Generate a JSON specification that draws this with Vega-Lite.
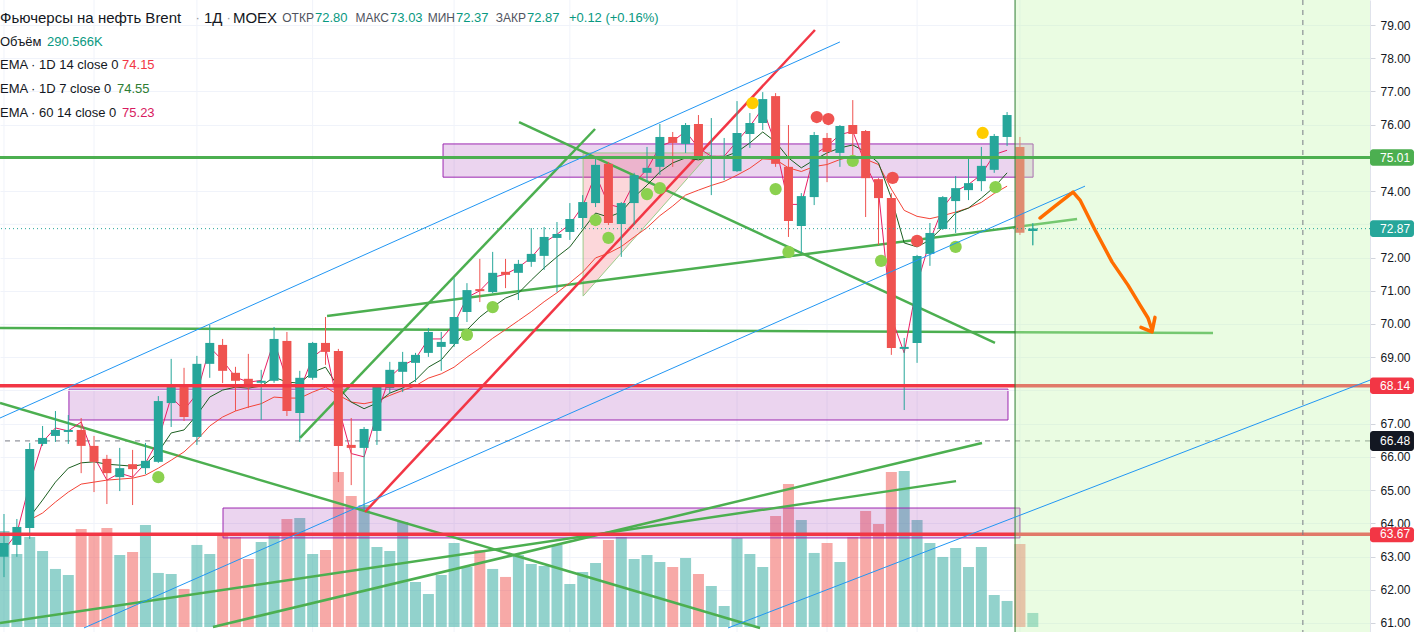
{
  "$schema": "https://vega.github.io/schema/vega-lite/v6.json",
  "description": "Brent futures, daily candles with drawings",
  "width": 1370,
  "height": 632,
  "autosize": {"type": "none"},
  "padding": {"left": 0, "top": 0, "right": 47, "bottom": 0},
  "background": "white",
  "config": {"view": {"stroke": null}, "font": "Liberation Sans", "scale": {"continuousPadding": 0}},
  "datasets": {
    "candles": [
      {"i":0,"o":62.99,"h":64.28,"l":62.38,"c":63.41,"v":1992,"e7":null,"e14":null,"e60":63.2},
      {"i":1,"o":63.35,"h":64.13,"l":62.99,"c":63.89,"v":1515,"e7":null,"e14":null,"e60":63.7},
      {"i":2,"o":63.86,"h":66.42,"l":63.53,"c":66.24,"v":1868,"e7":64.19,"e14":64.10,"e60":65.2},
      {"i":3,"o":66.39,"h":66.93,"l":66.33,"c":66.57,"v":1577,"e7":64.70,"e14":64.31,"e60":66.45},
      {"i":4,"o":66.63,"h":67.38,"l":66.45,"c":66.81,"v":1204,"e7":65.24,"e14":64.64,"e60":66.87},
      {"i":5,"o":66.75,"h":67.26,"l":66.39,"c":66.81,"v":1079,"e7":65.66,"e14":64.94,"e60":66.78},
      {"i":6,"o":66.81,"h":67.17,"l":65.51,"c":66.33,"v":2034,"e7":65.82,"e14":65.18,"e60":67.05},
      {"i":7,"o":66.33,"h":66.63,"l":64.94,"c":65.85,"v":1909,"e7":65.85,"e14":65.24,"e60":66.0},
      {"i":8,"o":65.94,"h":66.06,"l":64.58,"c":65.51,"v":2054,"e7":65.78,"e14":65.30,"e60":65.3},
      {"i":9,"o":65.39,"h":66.27,"l":64.97,"c":65.66,"v":1494,"e7":65.75,"e14":65.33,"e60":65.51},
      {"i":10,"o":65.78,"h":66.21,"l":64.55,"c":65.63,"v":1556,"e7":65.72,"e14":65.36,"e60":65.39},
      {"i":11,"o":65.66,"h":66.42,"l":65.48,"c":65.88,"v":2117,"e7":65.78,"e14":65.45,"e60":65.81},
      {"i":12,"o":65.85,"h":67.83,"l":65.82,"c":67.68,"v":1121,"e7":66.15,"e14":65.66,"e60":66.51},
      {"i":13,"o":67.62,"h":68.95,"l":66.90,"c":68.10,"v":1100,"e7":66.72,"e14":65.90,"e60":67.8},
      {"i":14,"o":68.10,"h":68.68,"l":67.08,"c":67.20,"v":789,"e7":66.81,"e14":66.15,"e60":67.41},
      {"i":15,"o":66.60,"h":69.04,"l":66.36,"c":68.80,"v":1702,"e7":67.26,"e14":66.51,"e60":67.9},
      {"i":16,"o":68.80,"h":69.97,"l":68.38,"c":69.43,"v":1515,"e7":67.80,"e14":66.93,"e60":69.3},
      {"i":17,"o":69.37,"h":69.55,"l":68.22,"c":68.59,"v":1951,"e7":68.01,"e14":67.20,"e60":68.9},
      {"i":18,"o":68.53,"h":68.71,"l":67.38,"c":68.29,"v":1868,"e7":68.10,"e14":67.38,"e60":68.4},
      {"i":19,"o":68.35,"h":69.10,"l":67.47,"c":68.16,"v":1411,"e7":68.07,"e14":67.50,"e60":68.25},
      {"i":20,"o":68.23,"h":68.62,"l":67.11,"c":68.29,"v":1764,"e7":68.13,"e14":67.60,"e60":68.3},
      {"i":21,"o":68.29,"h":69.91,"l":68.23,"c":69.55,"v":1930,"e7":68.40,"e14":67.80,"e60":69.5},
      {"i":22,"o":69.49,"h":69.76,"l":67.23,"c":67.38,"v":2241,"e7":68.25,"e14":67.77,"e60":68.3},
      {"i":23,"o":67.32,"h":68.59,"l":66.45,"c":68.38,"v":2262,"e7":68.22,"e14":67.77,"e60":68.0},
      {"i":24,"o":68.38,"h":69.46,"l":68.32,"c":69.43,"v":1515,"e7":68.55,"e14":67.95,"e60":69.0},
      {"i":25,"o":69.43,"h":70.21,"l":68.77,"c":69.16,"v":1598,"e7":68.70,"e14":68.10,"e60":69.3},
      {"i":26,"o":69.19,"h":69.25,"l":65.24,"c":66.33,"v":3216,"e7":68.10,"e14":67.86,"e60":67.5},
      {"i":27,"o":66.36,"h":67.17,"l":65.15,"c":66.27,"v":2718,"e7":67.65,"e14":67.65,"e60":66.1},
      {"i":28,"o":66.27,"h":66.90,"l":64.40,"c":66.84,"v":2532,"e7":67.45,"e14":67.60,"e60":66.0},
      {"i":29,"o":66.78,"h":68.16,"l":66.36,"c":68.13,"v":1660,"e7":67.62,"e14":67.68,"e60":67.3},
      {"i":30,"o":68.07,"h":68.86,"l":67.92,"c":68.62,"v":1577,"e7":67.92,"e14":67.85,"e60":68.4},
      {"i":31,"o":68.56,"h":69.16,"l":67.95,"c":68.86,"v":2179,"e7":68.07,"e14":68.00,"e60":68.75},
      {"i":32,"o":68.83,"h":69.13,"l":68.25,"c":69.07,"v":934,"e7":68.31,"e14":68.14,"e60":68.95},
      {"i":33,"o":69.13,"h":69.88,"l":69.01,"c":69.76,"v":685,"e7":68.70,"e14":68.37,"e60":69.55},
      {"i":34,"o":69.31,"h":69.76,"l":68.59,"c":69.46,"v":1079,"e7":68.92,"e14":68.50,"e60":69.55},
      {"i":35,"o":69.40,"h":71.38,"l":69.31,"c":70.21,"v":1743,"e7":69.37,"e14":68.70,"e60":70.0},
      {"i":36,"o":70.36,"h":71.23,"l":70.06,"c":71.02,"v":1245,"e7":69.82,"e14":69.00,"e60":70.8},
      {"i":37,"o":71.05,"h":71.96,"l":70.66,"c":70.99,"v":1598,"e7":70.21,"e14":69.27,"e60":71.0},
      {"i":38,"o":70.96,"h":72.17,"l":70.93,"c":71.54,"v":1204,"e7":70.51,"e14":69.57,"e60":71.4},
      {"i":39,"o":71.57,"h":71.96,"l":71.08,"c":71.48,"v":1038,"e7":70.78,"e14":69.83,"e60":71.5},
      {"i":40,"o":71.54,"h":71.93,"l":70.72,"c":71.81,"v":1494,"e7":70.93,"e14":70.10,"e60":71.7},
      {"i":41,"o":71.87,"h":72.89,"l":71.72,"c":72.11,"v":1307,"e7":71.32,"e14":70.37,"e60":72.0},
      {"i":42,"o":72.05,"h":72.92,"l":71.63,"c":72.62,"v":1266,"e7":71.69,"e14":70.67,"e60":72.45},
      {"i":43,"o":72.59,"h":73.07,"l":70.96,"c":72.71,"v":1702,"e7":72.02,"e14":70.94,"e60":72.7},
      {"i":44,"o":72.77,"h":73.64,"l":72.53,"c":73.16,"v":892,"e7":72.32,"e14":71.24,"e60":73.0},
      {"i":45,"o":73.19,"h":73.88,"l":72.89,"c":73.67,"v":1141,"e7":72.83,"e14":71.56,"e60":73.55},
      {"i":46,"o":73.64,"h":74.97,"l":73.52,"c":74.79,"v":1328,"e7":73.34,"e14":71.99,"e60":74.5},
      {"i":47,"o":74.82,"h":74.88,"l":72.98,"c":73.04,"v":1805,"e7":73.22,"e14":72.13,"e60":73.6},
      {"i":48,"o":73.01,"h":73.67,"l":72.02,"c":73.64,"v":1868,"e7":73.37,"e14":72.33,"e60":73.5},
      {"i":49,"o":73.64,"h":74.55,"l":72.98,"c":74.48,"v":1411,"e7":73.82,"e14":72.62,"e60":74.25},
      {"i":50,"o":74.55,"h":75.33,"l":74.27,"c":74.70,"v":1494,"e7":74.18,"e14":72.90,"e60":74.65},
      {"i":51,"o":74.73,"h":76.02,"l":74.49,"c":75.63,"v":1349,"e7":74.58,"e14":73.26,"e60":75.35},
      {"i":52,"o":75.63,"h":75.78,"l":74.73,"c":75.45,"v":1245,"e7":74.85,"e14":73.55,"e60":75.5},
      {"i":53,"o":75.42,"h":76.05,"l":75.15,"c":75.99,"v":1432,"e7":75.00,"e14":73.88,"e60":75.8},
      {"i":54,"o":76.02,"h":76.29,"l":75.00,"c":75.03,"v":1100,"e7":74.94,"e14":74.03,"e60":75.3},
      {"i":55,"o":75.00,"h":76.20,"l":73.88,"c":75.06,"v":851,"e7":75.03,"e14":74.17,"e60":75.05},
      {"i":56,"o":75.00,"h":75.60,"l":74.33,"c":75.06,"v":436,"e7":75.03,"e14":74.29,"e60":75.05},
      {"i":57,"o":74.60,"h":76.71,"l":74.58,"c":75.75,"v":1847,"e7":75.18,"e14":74.48,"e60":75.5},
      {"i":58,"o":75.72,"h":76.35,"l":75.30,"c":76.05,"v":1515,"e7":75.45,"e14":74.69,"e60":75.95},
      {"i":59,"o":76.05,"h":76.98,"l":75.84,"c":76.77,"v":1245,"e7":75.78,"e14":74.97,"e60":76.5},
      {"i":60,"o":76.86,"h":76.95,"l":74.73,"c":74.82,"v":2303,"e7":75.48,"e14":74.95,"e60":75.4},
      {"i":61,"o":74.73,"h":75.99,"l":72.62,"c":73.10,"v":2967,"e7":75.00,"e14":74.70,"e60":73.6},
      {"i":62,"o":72.95,"h":73.94,"l":72.14,"c":73.85,"v":2220,"e7":74.70,"e14":74.59,"e60":73.6},
      {"i":63,"o":73.82,"h":75.78,"l":73.58,"c":75.69,"v":1536,"e7":74.94,"e14":74.74,"e60":75.1},
      {"i":64,"o":75.60,"h":75.75,"l":74.27,"c":75.18,"v":1743,"e7":75.15,"e14":74.80,"e60":75.35},
      {"i":65,"o":75.15,"h":75.99,"l":74.73,"c":75.96,"v":1349,"e7":75.30,"e14":74.95,"e60":75.7},
      {"i":66,"o":75.99,"h":76.74,"l":75.03,"c":75.72,"v":1868,"e7":75.39,"e14":75.05,"e60":75.8},
      {"i":67,"o":75.81,"h":75.84,"l":73.22,"c":74.39,"v":2407,"e7":75.18,"e14":74.96,"e60":74.8},
      {"i":68,"o":74.36,"h":74.39,"l":72.38,"c":73.79,"v":2137,"e7":74.85,"e14":74.80,"e60":74.0},
      {"i":69,"o":73.79,"h":73.94,"l":69.07,"c":69.28,"v":3216,"e7":73.79,"e14":74.06,"e60":70.2},
      {"i":70,"o":69.25,"h":69.58,"l":67.41,"c":69.31,"v":3237,"e7":72.44,"e14":73.42,"e60":69.13},
      {"i":71,"o":69.43,"h":72.08,"l":68.83,"c":72.05,"v":2220,"e7":72.32,"e14":73.24,"e60":71.2},
      {"i":72,"o":72.11,"h":73.04,"l":71.75,"c":72.74,"v":1743,"e7":72.53,"e14":73.17,"e60":72.5},
      {"i":73,"o":72.86,"h":73.85,"l":72.83,"c":73.82,"v":1453,"e7":72.92,"e14":73.26,"e60":73.5},
      {"i":74,"o":73.70,"h":74.45,"l":72.74,"c":74.09,"v":1639,"e7":73.34,"e14":73.37,"e60":74.0},
      {"i":75,"o":74.03,"h":74.99,"l":73.73,"c":74.24,"v":1245,"e7":73.49,"e14":73.49,"e60":74.2},
      {"i":76,"o":74.30,"h":75.33,"l":74.00,"c":74.76,"v":1660,"e7":73.79,"e14":73.66,"e60":74.5},
      {"i":77,"o":74.64,"h":75.72,"l":74.55,"c":75.66,"v":664,"e7":74.12,"e14":73.93,"e60":75.1},
      {"i":78,"o":75.63,"h":76.38,"l":75.36,"c":76.29,"v":540,"e7":74.55,"e14":74.15,"e60":75.23},
      {"i":79,"o":75.33,"h":75.63,"l":72.68,"c":72.75,"v":1722,"e7":null,"e14":null,"e60":null},
      {"i":80,"o":72.80,"h":73.03,"l":72.37,"c":72.87,"v":291,"e7":null,"e14":null,"e60":null}
    ],
    "vgrid": [{"i":0},{"i":7},{"i":15},{"i":24},{"i":35},{"i":44},{"i":57},{"i":64},{"i":71},{"i":79}],
    "boxes": [
      {"i":34.14,"i2":80.02,"p":75.42,"p2":74.42},
      {"i":5.05,"i2":78.07,"p":68.04,"p2":67.11},
      {"i":17.03,"i2":79.0,"p":64.46,"p2":63.56}
    ],
    "tri": [
      {"i":45.03,"p":75.15,"p2":70.84},
      {"i":54.9,"p":75.15,"p2":75.15}
    ],
    "triEdge": [
      {"o":0,"i":45.03,"p":70.84},
      {"o":1,"i":45.03,"p":75.15},
      {"o":2,"i":54.9,"p":75.15},
      {"o":3,"i":45.03,"p":70.84}
    ],
    "greenLines": [
      {"g":"G1","i":-0.31,"p":67.62},{"g":"G1","i":58.79,"p":60.85},
      {"g":"G2","i":40.05,"p":76.08},{"g":"G2","i":77.06,"p":69.43},
      {"g":"G3","i":23.02,"p":66.57},{"g":"G3","i":45.96,"p":75.87},
      {"g":"G5","i":25.12,"p":70.24},{"g":"G5","i":83.44,"p":73.16},
      {"g":"GA","i":-0.31,"p":61.0},{"g":"GA","i":74.03,"p":65.27},
      {"g":"GB","i":16.25,"p":60.88},{"g":"GB","i":76.05,"p":66.42},
      {"g":"GH","i":-0.31,"p":69.88},{"g":"GH","i":94.01,"p":69.73}
    ],
    "blueLines": [
      {"g":"B1","i":-0.31,"p":67.17},{"g":"B1","i":65.0,"p":78.49},
      {"g":"B2","i":6.22,"p":60.85},{"g":"B2","i":84.06,"p":74.15},
      {"g":"B3","i":56.3,"p":60.85},{"g":"B3","i":106.22,"p":68.31}
    ],
    "redLine": [{"i":28.07,"p":64.34},{"i":63.06,"p":78.85}],
    "dots": [
      {"i":12,"p":65.39,"k":"g"},{"i":36,"p":69.67,"k":"g"},{"i":38,"p":70.51,"k":"g"},
      {"i":46,"p":73.13,"k":"g"},{"i":47,"p":72.59,"k":"g"},{"i":50,"p":73.91,"k":"g"},
      {"i":51,"p":74.09,"k":"g"},{"i":60,"p":74.06,"k":"g"},{"i":61,"p":72.17,"k":"g"},
      {"i":66,"p":74.91,"k":"g"},{"i":68.2,"p":71.9,"k":"g"},{"i":74,"p":72.32,"k":"g"},
      {"i":77.1,"p":74.12,"k":"g"},
      {"i":63.2,"p":76.23,"k":"r"},{"i":64.1,"p":76.17,"k":"r"},{"i":69.1,"p":74.4,"k":"r"},
      {"i":71,"p":72.5,"k":"r"},
      {"i":58.2,"p":76.65,"k":"y"},{"i":76.1,"p":75.75,"k":"y"}
    ],
    "zone": [{"i":78.62,"i2":106.22,"p":60.728,"p2":79.753}],
    "arrow": [
      {"g":"s","i":80.56,"p":73.19},{"g":"s","i":81.73,"p":73.55},{"g":"s","i":83.13,"p":73.97},
      {"g":"s","i":83.67,"p":73.73},{"g":"s","i":84.84,"p":72.83},{"g":"s","i":86.16,"p":71.87},
      {"g":"s","i":87.40,"p":71.17},{"g":"s","i":88.34,"p":70.57},{"g":"s","i":88.96,"p":70.18},
      {"g":"s","i":89.27,"p":69.82},
      {"g":"h","i":88.41,"p":69.9},{"g":"h","i":89.27,"p":69.76},{"g":"h","i":89.5,"p":70.2}
    ],
    "tags": [
      {"p":75.01,"hi":75.26,"lo":74.76,"lab":"75.01","r":"g"},
      {"p":72.87,"hi":73.12,"lo":72.62,"lab":"72.87","r":"t"},
      {"p":68.14,"hi":68.39,"lo":67.89,"lab":"68.14","r":"r"},
      {"p":66.48,"hi":66.78,"lo":66.18,"lab":"66.48","r":"k"},
      {"p":63.67,"hi":63.88,"lo":63.43,"lab":"63.67","r":"r"}
    ],
    "header": [
      {"t":"Фьючерсы на нефть Brent","i":-0.311,"p":79.211,"r":"title"},
      {"t":"·","i":14.9,"p":79.211,"r":"dot"},
      {"t":"1Д","i":15.55,"p":79.211,"r":"title"},
      {"t":"·","i":17.3,"p":79.211,"r":"dot"},
      {"t":"MOEX","i":17.8,"p":79.211,"r":"title"},
      {"t":"ОТКР","i":24.1,"p":79.211,"r":"lab"},
      {"t":"72.80","i":24.18,"p":79.211,"r":"up"},
      {"t":"МАКС","i":29.94,"p":79.211,"r":"lab"},
      {"t":"73.03","i":30.02,"p":79.211,"r":"up"},
      {"t":"МИН","i":35.07,"p":79.211,"r":"lab"},
      {"t":"72.37","i":35.15,"p":79.211,"r":"up"},
      {"t":"ЗАКР","i":40.59,"p":79.211,"r":"lab"},
      {"t":"72.87","i":40.67,"p":79.211,"r":"up"},
      {"t":"+0.12 (+0.16%)","i":43.93,"p":79.211,"r":"up"},
      {"t":"Объём","i":-0.311,"p":78.489,"r":"lab2"},
      {"t":"290.566K","i":3.34,"p":78.489,"r":"up"},
      {"t":"EMA · 1D 14 close 0","i":-0.311,"p":77.797,"r":"lab2"},
      {"t":"74.15","i":9.18,"p":77.797,"r":"e14"},
      {"t":"EMA · 1D 7 close 0","i":-0.311,"p":77.074,"r":"lab2"},
      {"t":"74.55","i":8.79,"p":77.074,"r":"e7"},
      {"t":"EMA · 60 14 close 0","i":-0.311,"p":76.352,"r":"lab2"},
      {"t":"75.23","i":9.18,"p":76.352,"r":"e60"}
    ]
  },
  "resolve": {"scale": {"y": "independent"}},
  "layer": [
    {
      "layer": [
        {
          "data": {"name": "vgrid"},
          "mark": {"type": "rule", "color": "#f0f3fa", "strokeWidth": 1},
          "encoding": {
            "x": {"field": "i", "type": "quantitative", "scale": {"domain": [-0.311, 106.22], "nice": false, "zero": false, "padding": 0}, "axis": null}
          }
        },
        {
          "data": {"name": "candles"},
          "mark": {"type": "bar", "size": 11, "opacity": 0.5},
          "encoding": {
            "x": {"field": "i", "type": "quantitative", "scale": {"domain": [-0.311, 106.22], "nice": false, "zero": false, "padding": 0}, "axis": null},
            "y": {"field": "v", "type": "quantitative", "scale": {"domain": [-104, 13010], "nice": false, "zero": false}, "axis": null},
            "y2": {"datum": 0},
            "color": {"condition": {"test": "datum.c >= datum.o", "value": "#26a69a"}, "value": "#ef5350"}
          }
        }
      ]
    },
    {
      "resolve": {"scale": {"color": "independent"}},
      "layer": [
        {
          "data": {"name": "boxes"},
          "mark": {"type": "rect", "fill": "#9c27b0", "fillOpacity": 0.2, "stroke": "#9c27b0", "strokeWidth": 1},
          "encoding": {
            "x": {"field": "i", "type": "quantitative", "scale": {"domain": [-0.311, 106.22], "nice": false, "zero": false, "padding": 0}, "axis": null},
            "x2": {"field": "i2"},
            "y": {"field": "p", "type": "quantitative", "scale": {"domain": [60.728, 79.753], "nice": false, "zero": false}, "title": null,
              "axis": {"orient": "right", "values": [61,62,63,64,65,66,67,69,70,71,72,74,76,77,78,79], "format": ".2f",
                "labelOverlap": false, "labelFont": "Liberation Sans", "labelFontSize": 12, "labelColor": "#131722", "tickColor": "#d1d4dc", "tickSize": 5,
                "labelPadding": 5, "domainColor": "#e0e3eb", "grid": true, "gridColor": "#f0f3fa", "title": null}},
            "y2": {"field": "p2"}
          }
        },
        {
          "data": {"values": [{"p": 68}, {"p": 73}, {"p": 75}]},
          "mark": {"type": "rule", "color": "#f0f3fa", "strokeWidth": 1},
          "encoding": {
            "y": {"field": "p", "type": "quantitative", "scale": {"domain": [60.728, 79.753], "nice": false, "zero": false}, "title": null}
          }
        },
        {
          "data": {"name": "tri"},
          "mark": {"type": "area", "color": "#f23645", "opacity": 0.2},
          "encoding": {
            "x": {"field": "i", "type": "quantitative", "scale": {"domain": [-0.311, 106.22], "nice": false, "zero": false, "padding": 0}, "axis": null},
            "y": {"field": "p", "type": "quantitative", "scale": {"domain": [60.728, 79.753], "nice": false, "zero": false}, "title": null},
            "y2": {"field": "p2"}
          }
        },
        {
          "data": {"name": "triEdge"},
          "mark": {"type": "line", "color": "#9ccc8a", "strokeWidth": 1},
          "encoding": {
            "x": {"field": "i", "type": "quantitative", "scale": {"domain": [-0.311, 106.22], "nice": false, "zero": false, "padding": 0}, "axis": null},
            "y": {"field": "p", "type": "quantitative", "scale": {"domain": [60.728, 79.753], "nice": false, "zero": false}, "title": null},
            "order": {"field": "o"}
          }
        },
        {
          "data": {"values": [{"p": 66.48}]},
          "mark": {"type": "rule", "color": "#787b86", "strokeWidth": 1, "strokeDash": [5, 5]},
          "encoding": {
            "y": {"field": "p", "type": "quantitative", "scale": {"domain": [60.728, 79.753], "nice": false, "zero": false}, "title": null}
          }
        },
        {
          "data": {"name": "greenLines"},
          "mark": {"type": "line", "color": "#4caf50", "strokeWidth": 2.5},
          "encoding": {
            "x": {"field": "i", "type": "quantitative", "scale": {"domain": [-0.311, 106.22], "nice": false, "zero": false, "padding": 0}, "axis": null},
            "y": {"field": "p", "type": "quantitative", "scale": {"domain": [60.728, 79.753], "nice": false, "zero": false}, "title": null},
            "detail": {"field": "g"}
          }
        },
        {
          "data": {"name": "redLine"},
          "mark": {"type": "line", "color": "#f23645", "strokeWidth": 2.5},
          "encoding": {
            "x": {"field": "i", "type": "quantitative", "scale": {"domain": [-0.311, 106.22], "nice": false, "zero": false, "padding": 0}, "axis": null},
            "y": {"field": "p", "type": "quantitative", "scale": {"domain": [60.728, 79.753], "nice": false, "zero": false}, "title": null}
          }
        },
        {
          "data": {"name": "candles"},
          "mark": {"type": "line", "color": "#f44336", "strokeWidth": 1},
          "encoding": {
            "x": {"field": "i", "type": "quantitative", "scale": {"domain": [-0.311, 106.22], "nice": false, "zero": false, "padding": 0}, "axis": null},
            "y": {"field": "e14", "type": "quantitative", "scale": {"domain": [60.728, 79.753], "nice": false, "zero": false}, "title": null}
          }
        },
        {
          "data": {"name": "candles"},
          "mark": {"type": "line", "color": "#1b5e20", "strokeWidth": 1},
          "encoding": {
            "x": {"field": "i", "type": "quantitative", "scale": {"domain": [-0.311, 106.22], "nice": false, "zero": false, "padding": 0}, "axis": null},
            "y": {"field": "e7", "type": "quantitative", "scale": {"domain": [60.728, 79.753], "nice": false, "zero": false}, "title": null}
          }
        },
        {
          "data": {"name": "candles"},
          "mark": {"type": "line", "color": "#e91e63", "strokeWidth": 1},
          "encoding": {
            "x": {"field": "i", "type": "quantitative", "scale": {"domain": [-0.311, 106.22], "nice": false, "zero": false, "padding": 0}, "axis": null},
            "y": {"field": "e60", "type": "quantitative", "scale": {"domain": [60.728, 79.753], "nice": false, "zero": false}, "title": null}
          }
        },
        {
          "data": {"name": "candles"},
          "mark": {"type": "rule", "strokeWidth": 1},
          "encoding": {
            "x": {"field": "i", "type": "quantitative", "scale": {"domain": [-0.311, 106.22], "nice": false, "zero": false, "padding": 0}, "axis": null},
            "y": {"field": "l", "type": "quantitative", "scale": {"domain": [60.728, 79.753], "nice": false, "zero": false}, "title": null},
            "y2": {"field": "h"},
            "color": {"condition": {"test": "datum.c >= datum.o", "value": "#26a69a"}, "value": "#ef5350"}
          }
        },
        {
          "data": {"name": "candles"},
          "mark": {"type": "bar", "size": 9},
          "encoding": {
            "x": {"field": "i", "type": "quantitative", "scale": {"domain": [-0.311, 106.22], "nice": false, "zero": false, "padding": 0}, "axis": null},
            "y": {"field": "o", "type": "quantitative", "scale": {"domain": [60.728, 79.753], "nice": false, "zero": false}, "title": null},
            "y2": {"field": "c"},
            "color": {"condition": {"test": "datum.c >= datum.o", "value": "#26a69a"}, "value": "#ef5350"}
          }
        },
        {
          "data": {"values": [{"p": 68.14}, {"p": 63.67}]},
          "mark": {"type": "rule", "color": "#f23645", "strokeWidth": 3.5},
          "encoding": {
            "y": {"field": "p", "type": "quantitative", "scale": {"domain": [60.728, 79.753], "nice": false, "zero": false}, "title": null}
          }
        },
        {
          "data": {"name": "dots"},
          "mark": {"type": "point", "filled": true, "size": 150, "opacity": 1, "shape": "circle"},
          "encoding": {
            "x": {"field": "i", "type": "quantitative", "scale": {"domain": [-0.311, 106.22], "nice": false, "zero": false, "padding": 0}, "axis": null},
            "y": {"field": "p", "type": "quantitative", "scale": {"domain": [60.728, 79.753], "nice": false, "zero": false}, "title": null},
            "color": {"field": "k", "type": "nominal", "scale": {"domain": ["g", "r", "y"], "range": ["#8bd14f", "#ef5350", "#ffcc00"]}, "legend": null}
          }
        },
        {
          "data": {"name": "zone"},
          "mark": {"type": "rect", "fill": "#c3f5ad", "fillOpacity": 0.35},
          "encoding": {
            "x": {"field": "i", "type": "quantitative", "scale": {"domain": [-0.311, 106.22], "nice": false, "zero": false, "padding": 0}, "axis": null},
            "x2": {"field": "i2"},
            "y": {"field": "p", "type": "quantitative", "scale": {"domain": [60.728, 79.753], "nice": false, "zero": false}, "title": null},
            "y2": {"field": "p2"}
          }
        },
        {
          "data": {"values": [{"p": 75.01}]},
          "mark": {"type": "rule", "color": "#4caf50", "strokeWidth": 3},
          "encoding": {
            "y": {"field": "p", "type": "quantitative", "scale": {"domain": [60.728, 79.753], "nice": false, "zero": false}, "title": null}
          }
        },
        {
          "data": {"values": [{"i": 78.62}]},
          "mark": {"type": "rule", "color": "#2e7d32", "strokeWidth": 1},
          "encoding": {
            "x": {"field": "i", "type": "quantitative", "scale": {"domain": [-0.311, 106.22], "nice": false, "zero": false, "padding": 0}, "axis": null}
          }
        },
        {
          "data": {"values": [{"i": 101.0}]},
          "mark": {"type": "rule", "color": "#787b86", "strokeWidth": 1, "strokeDash": [5, 5]},
          "encoding": {
            "x": {"field": "i", "type": "quantitative", "scale": {"domain": [-0.311, 106.22], "nice": false, "zero": false, "padding": 0}, "axis": null}
          }
        },
        {
          "data": {"name": "blueLines"},
          "mark": {"type": "line", "color": "#2196f3", "strokeWidth": 1},
          "encoding": {
            "x": {"field": "i", "type": "quantitative", "scale": {"domain": [-0.311, 106.22], "nice": false, "zero": false, "padding": 0}, "axis": null},
            "y": {"field": "p", "type": "quantitative", "scale": {"domain": [60.728, 79.753], "nice": false, "zero": false}, "title": null},
            "detail": {"field": "g"}
          }
        },
        {
          "data": {"values": [{"p": 72.87}]},
          "mark": {"type": "rule", "color": "#26a69a", "strokeWidth": 1, "strokeDash": [1, 3]},
          "encoding": {
            "y": {"field": "p", "type": "quantitative", "scale": {"domain": [60.728, 79.753], "nice": false, "zero": false}, "title": null}
          }
        },
        {
          "data": {"name": "candles"},
          "transform": [{"filter": "datum.i == 80"}],
          "mark": {"type": "rule", "strokeWidth": 1, "color": "#26a69a"},
          "encoding": {
            "x": {"field": "i", "type": "quantitative", "scale": {"domain": [-0.311, 106.22], "nice": false, "zero": false, "padding": 0}, "axis": null},
            "y": {"field": "l", "type": "quantitative", "scale": {"domain": [60.728, 79.753], "nice": false, "zero": false}, "title": null},
            "y2": {"field": "h"}
          }
        },
        {
          "data": {"name": "candles"},
          "transform": [{"filter": "datum.i == 80"}],
          "mark": {"type": "bar", "size": 9, "color": "#26a69a"},
          "encoding": {
            "x": {"field": "i", "type": "quantitative", "scale": {"domain": [-0.311, 106.22], "nice": false, "zero": false, "padding": 0}, "axis": null},
            "y": {"field": "o", "type": "quantitative", "scale": {"domain": [60.728, 79.753], "nice": false, "zero": false}, "title": null},
            "y2": {"field": "c"}
          }
        },
        {
          "data": {"name": "arrow"},
          "mark": {"type": "line", "color": "#ff6d00", "strokeWidth": 3.5, "strokeCap": "round", "strokeJoin": "round"},
          "encoding": {
            "x": {"field": "i", "type": "quantitative", "scale": {"domain": [-0.311, 106.22], "nice": false, "zero": false, "padding": 0}, "axis": null},
            "y": {"field": "p", "type": "quantitative", "scale": {"domain": [60.728, 79.753], "nice": false, "zero": false}, "title": null},
            "detail": {"field": "g"}
          }
        },
        {
          "data": {"name": "header"},
          "transform": [{"filter": "datum.r == 'title'"}],
          "mark": {"type": "text", "align": "left", "baseline": "middle", "font": "Liberation Sans", "fontSize": 15, "color": "#131722"},
          "encoding": {
            "x": {"field": "i", "type": "quantitative", "scale": {"domain": [-0.311, 106.22], "nice": false, "zero": false, "padding": 0}, "axis": null},
            "y": {"field": "p", "type": "quantitative", "scale": {"domain": [60.728, 79.753], "nice": false, "zero": false}, "title": null},
            "text": {"field": "t"}
          }
        },
        {
          "data": {"name": "header"},
          "transform": [{"filter": "datum.r == 'lab'"}],
          "mark": {"type": "text", "align": "right", "baseline": "middle", "font": "Liberation Sans", "fontSize": 12, "color": "#50535e"},
          "encoding": {
            "x": {"field": "i", "type": "quantitative", "scale": {"domain": [-0.311, 106.22], "nice": false, "zero": false, "padding": 0}, "axis": null},
            "y": {"field": "p", "type": "quantitative", "scale": {"domain": [60.728, 79.753], "nice": false, "zero": false}, "title": null},
            "text": {"field": "t"}
          }
        },
        {
          "data": {"name": "header"},
          "transform": [{"filter": "datum.r != 'title' && datum.r != 'lab'"}],
          "mark": {"type": "text", "align": "left", "baseline": "middle", "font": "Liberation Sans", "fontSize": 13},
          "encoding": {
            "x": {"field": "i", "type": "quantitative", "scale": {"domain": [-0.311, 106.22], "nice": false, "zero": false, "padding": 0}, "axis": null},
            "y": {"field": "p", "type": "quantitative", "scale": {"domain": [60.728, 79.753], "nice": false, "zero": false}, "title": null},
            "text": {"field": "t"},
            "color": {"field": "r", "type": "nominal", "scale": {"domain": ["dot", "lab2", "up", "e14", "e7", "e60"], "range": ["#9598a1", "#131722", "#089981", "#f23645", "#2e7d32", "#d81b60"]}, "legend": null}
          }
        },
        {
          "data": {"name": "tags"},
          "mark": {"type": "rect", "cornerRadius": 3},
          "encoding": {
            "x": {"datum": 106.22, "type": "quantitative", "scale": {"domain": [-0.311, 106.22], "nice": false, "zero": false, "padding": 0}, "axis": null},
            "x2": {"datum": 109.64},
            "y": {"field": "hi", "type": "quantitative", "scale": {"domain": [60.728, 79.753], "nice": false, "zero": false}, "title": null},
            "y2": {"field": "lo"},
            "color": {"field": "r", "type": "nominal", "scale": {"domain": ["g", "t", "r", "k"], "range": ["#4caf50", "#26a69a", "#f23645", "#131722"]}, "legend": null}
          }
        },
        {
          "data": {"name": "tags"},
          "mark": {"type": "text", "align": "left", "baseline": "middle", "font": "Liberation Sans", "fontSize": 12, "color": "#ffffff"},
          "encoding": {
            "x": {"datum": 107.0, "type": "quantitative", "scale": {"domain": [-0.311, 106.22], "nice": false, "zero": false, "padding": 0}, "axis": null},
            "y": {"field": "p", "type": "quantitative", "scale": {"domain": [60.728, 79.753], "nice": false, "zero": false}, "title": null},
            "text": {"field": "lab"}
          }
        }
      ]
    }
  ]
}
